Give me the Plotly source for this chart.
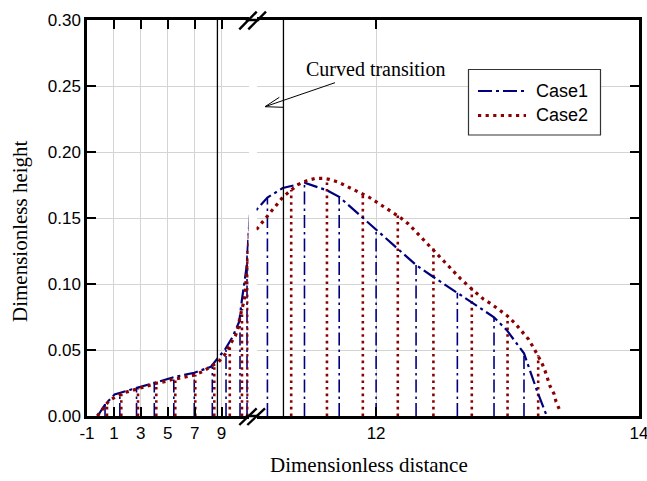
import plotly.graph_objects as go

# ---------------- data ----------------
case1_x = [-0.21, 0.41, 0.80, 1.05, 2.16, 3.16, 4.15, 5.49, 6.97, 7.84, 8.21, 8.78, 9.20,
           9.82, 10.31, 10.51, 10.69, 10.86, 10.98, 11.093, 11.173, 11.29, 11.455, 11.625,
           11.719, 11.90, 12.0, 12.157, 12.304, 12.433, 12.618, 12.715, 12.897, 12.994,
           13.125, 13.222, 13.298]
case1_h = [0.0, 0.0098, 0.0134, 0.0164, 0.0197, 0.0227, 0.0252, 0.0295, 0.0328, 0.0361,
           0.0373, 0.0447, 0.0495, 0.060, 0.0714, 0.0879, 0.1005, 0.113, 0.1333, 0.1566,
           0.1655, 0.1727, 0.1767, 0.171, 0.166, 0.150, 0.141, 0.127, 0.1144, 0.1055,
           0.0934, 0.0866, 0.0748, 0.065, 0.0475, 0.0197, 0.0]

case1_stem_x = [0.34, 1.44, 2.68, 4.0, 5.45, 6.97, 8.31, 9.33, 10.37, 10.89,
                11.173, 11.455, 11.719, 12.0, 12.304, 12.618, 12.897, 13.125]
case1_stem_h = [0.009, 0.0165, 0.0215, 0.025, 0.029, 0.0328, 0.0375, 0.050, 0.073, 0.125,
                0.1655, 0.1767, 0.166, 0.141, 0.1144, 0.0934, 0.0748, 0.0475]

case2_x = [-0.235, 0.062, 0.382, 0.634, 1.229, 1.793, 2.418, 3.034, 3.651, 4.149, 4.765,
           5.36, 5.857, 6.355, 6.972, 7.588, 8.212, 8.777, 9.275, 9.646, 10.018, 10.189,
           10.367, 10.56, 10.686, 10.76, 10.81, 10.857, 10.91, 10.93, 11.093, 11.143,
           11.186, 11.237, 11.29, 11.354, 11.409, 11.473, 11.536, 11.6, 11.643, 11.709,
           11.764, 11.827, 11.886, 11.947, 12.005, 12.063, 12.124, 12.183, 12.246, 12.304,
           12.36, 12.418, 12.469, 12.525, 12.583, 12.644, 12.702, 12.76, 12.816, 12.88,
           12.938, 12.999, 13.057, 13.108, 13.158, 13.196, 13.23, 13.26, 13.285, 13.323,
           13.354, 13.369, 13.394]
case2_h = [0.0, 0.0045, 0.0083, 0.0116, 0.0152, 0.0177, 0.0197, 0.0217, 0.0235, 0.0248,
           0.026, 0.0278, 0.0286, 0.0298, 0.031, 0.0336, 0.0373, 0.0411, 0.047, 0.0545,
           0.0606, 0.065, 0.075, 0.083, 0.088, 0.095, 0.1005, 0.107, 0.113, 0.117, 0.1417,
           0.1477, 0.1536, 0.1593, 0.1657, 0.1712, 0.1755, 0.1783, 0.18, 0.18, 0.1793,
           0.1773, 0.1748, 0.1717, 0.1687, 0.1657, 0.1621, 0.1586, 0.1548, 0.1505, 0.1455,
           0.1394, 0.1333, 0.1275, 0.1217, 0.1157, 0.1098, 0.1038, 0.0985, 0.0934, 0.0886,
           0.0846, 0.0803, 0.0758, 0.0702, 0.0644, 0.0583, 0.052, 0.0462, 0.0404, 0.0343,
           0.0227, 0.0167, 0.0108, 0.005]

case2_stem_x = [0.486, 1.548, 2.789, 4.149, 5.56, 7.046, 8.457, 9.609, 10.515, 10.93,
                11.354, 11.626, 11.899, 12.165, 12.436, 12.728, 13.0, 13.233]
case2_stem_h = [0.0095, 0.0166, 0.0209, 0.0248, 0.0281, 0.0313, 0.0388, 0.054, 0.081, 0.117,
                0.1712, 0.1795, 0.168, 0.152, 0.127, 0.0965, 0.0758, 0.046]

series_names = ["Case1", "Case2"]
x_left_ticks = [-1, 1, 3, 5, 7, 9]
x_right_ticks = [12, 14]
y_ticks = [0.0, 0.05, 0.10, 0.15, 0.20, 0.25, 0.30]
x_left_range = [-1, 11]
x_right_range = [11.09, 14]
transition_start = 8.69
transition_end = 11.295

# ---------------- geometry ----------------
W, H = 647, 481
L, R, T, B = 87, 8, 20, 65
PW, PH = W - L - R, H - T - B


def fx(px):
    return (px - L) / PW


def fy(py):
    return (H - B - py) / PH


d1 = fx(248.5)
d2 = fx(256.5)

NAVY = "#00007f"
RED = "#8b0000"
SANS = "Liberation Sans, Arial, sans-serif"
SERIF = "Liberation Serif, Times New Roman, serif"
C1_DASH = "14px,4px,3px,4px"
C2_DASH = "3.2px,4.4px"


def stems(xs, hs):
    sx, sy = [], []
    for x, h in zip(xs, hs):
        sx += [x, x, None]
        sy += [0, h, None]
    return sx, sy


s1x, s1y = stems(case1_stem_x, case1_stem_h)
s2x, s2y = stems(case2_stem_x, case2_stem_h)

fig = go.Figure()
for i, (xa, ya) in enumerate([("x", "y"), ("x2", "y2")]):
    fig.add_trace(go.Scatter(x=s1x, y=s1y, xaxis=xa, yaxis=ya, mode="lines",
                             line=dict(color=NAVY, width=1.6, dash="13px,4px,2.5px,4px"),
                             showlegend=False, hoverinfo="skip"))
    fig.add_trace(go.Scatter(x=s2x, y=s2y, xaxis=xa, yaxis=ya, mode="lines",
                             line=dict(color=RED, width=2.6, dash="2.6px,4px"),
                             showlegend=False, hoverinfo="skip"))
    fig.add_trace(go.Scatter(x=case1_x, y=case1_h, xaxis=xa, yaxis=ya, mode="lines",
                             name=series_names[0],
                             line=dict(color=NAVY, width=2.2, dash=C1_DASH),
                             showlegend=False))
    fig.add_trace(go.Scatter(x=case2_x, y=case2_h, xaxis=xa, yaxis=ya, mode="lines",
                             name=series_names[1],
                             line=dict(color=RED, width=3.2, dash=C2_DASH),
                             showlegend=False))

axis_common = dict(ticks="inside", ticklen=9, tickwidth=2, tickcolor="black",
                   showline=True, linewidth=2.5, linecolor="black", automargin=False,
                   showgrid=True, gridcolor="#d4d4d4", gridwidth=1.3, zeroline=False,
                   tickfont=dict(family=SANS, size=17, color="black"))

fig.update_layout(
    width=W, height=H,
    margin=dict(l=L, r=R, t=T, b=B, autoexpand=False),
    paper_bgcolor="white", plot_bgcolor="white",
    xaxis=dict(domain=[0, d1], range=x_left_range, tickvals=x_left_ticks,
               ticktext=[str(v) for v in x_left_ticks], mirror="ticks", anchor="y",
               **axis_common),
    xaxis2=dict(domain=[d2, 1], range=x_right_range, tickvals=x_right_ticks,
                ticktext=[str(v) for v in x_right_ticks], mirror="ticks", anchor="y2",
                ticklabeloverflow="allow", **axis_common),
    yaxis=dict(domain=[0, 1], range=[0, 0.30], tickvals=y_ticks,
               ticktext=[f"{v:.2f}" for v in y_ticks], anchor="x", side="left",
               **axis_common),
    yaxis2=dict(domain=[0, 1], range=[0, 0.30], tickvals=y_ticks, showticklabels=False,
                anchor="x2", side="right", **axis_common),
    showlegend=False,
)

shapes = []
# transition boundaries
shapes.append(dict(type="line", xref="x", yref="paper", x0=transition_start, x1=transition_start,
                   y0=0, y1=1, line=dict(color="black", width=1.3)))
shapes.append(dict(type="line", xref="x2", yref="paper", x0=transition_end, x1=transition_end,
                   y0=0, y1=1, line=dict(color="black", width=1.3)))
# bridge the frame across the gap
for yy in (0, 1):
    shapes.append(dict(type="line", xref="paper", yref="paper", x0=d1 - 0.005, x1=d2 + 0.005,
                       y0=yy, y1=yy, line=dict(color="black", width=2.5)))
# break marks
for (ax, ay, bx, by) in [(239.3, 29.3, 256.7, 11.7), (248.3, 29.3, 266.0, 11.7),
                         (239.3, 425.0, 256.7, 408.3), (247.3, 425.0, 265.0, 408.3)]:
    shapes.append(dict(type="line", xref="paper", yref="paper", x0=fx(ax), y0=fy(ay),
                       x1=fx(bx), y1=fy(by), line=dict(color="black", width=2.4)))
# arrow for annotation
for (ax, ay, bx, by) in [(335, 82.7, 265, 106.7), (265, 106.7, 279.3, 97.3),
                         (265, 106.7, 283.3, 107.3)]:
    shapes.append(dict(type="line", xref="paper", yref="paper", x0=fx(ax), y0=fy(ay),
                       x1=fx(bx), y1=fy(by), line=dict(color="black", width=1)))
# legend box and samples
shapes.append(dict(type="rect", xref="paper", yref="paper", x0=fx(468.5), x1=fx(600.5),
                   y0=fy(135), y1=fy(69.5), fillcolor="white",
                   line=dict(color="#333333", width=1.2)))
shapes.append(dict(type="line", xref="paper", yref="paper", x0=fx(478), x1=fx(526),
                   y0=fy(91), y1=fy(91), line=dict(color=NAVY, width=2.2, dash=C1_DASH)))
shapes.append(dict(type="line", xref="paper", yref="paper", x0=fx(478), x1=fx(526),
                   y0=fy(115.5), y1=fy(115.5), line=dict(color=RED, width=3.2, dash=C2_DASH)))
fig.update_layout(shapes=shapes)

for name, yy in zip(series_names, (91, 115.5)):
    fig.add_annotation(text=name, xref="paper", yref="paper", x=fx(534), y=fy(yy),
                       xanchor="left", yanchor="middle", showarrow=False,
                       font=dict(family=SANS, size=18, color="black"))

fig.add_annotation(text="Curved transition", xref="paper", yref="paper",
                   x=fx(375), y=fy(68.5), xanchor="center", yanchor="middle",
                   showarrow=False, font=dict(family=SERIF, size=20, color="black"))
fig.add_annotation(text="Dimensionless distance", xref="paper", yref="paper",
                   x=fx(369), y=fy(465), xanchor="center", yanchor="middle",
                   showarrow=False, font=dict(family=SERIF, size=21, color="black"))
fig.add_annotation(text="Dimensionless height", xref="paper", yref="paper",
                   x=fx(20), y=fy(231), xanchor="center", yanchor="middle", textangle=-90,
                   showarrow=False, font=dict(family=SERIF, size=21, color="black"))

fig.write_html("out.html")
